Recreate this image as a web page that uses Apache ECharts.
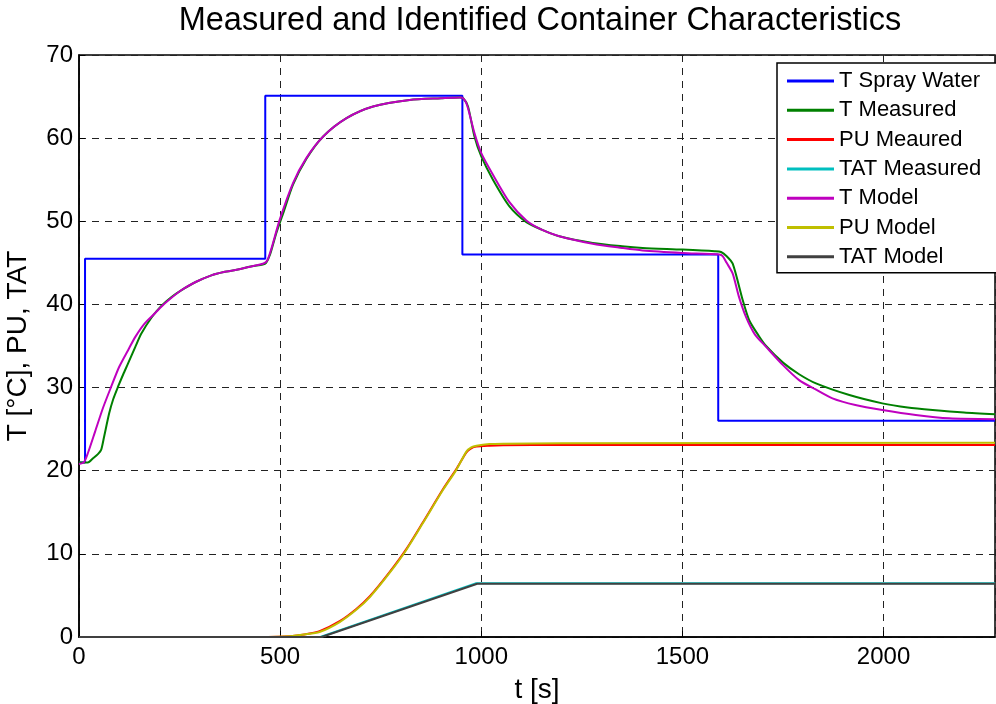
<!DOCTYPE html>
<html>
<head>
<meta charset="utf-8">
<script src="https://cdn.jsdelivr.net/npm/echarts@6/dist/echarts.min.js"></script>
<style>
html,body{margin:0;padding:0;background:#fff;}
#chart{width:996px;height:704px;}
</style>
</head>
<body>
<div id="chart"></div>
<script>
// ---- data ----
var seriesNames = ['T Spray Water','T Measured','PU Meaured','TAT Measured','T Model','PU Model','TAT Model'];
var xTicks = [0, 500, 1000, 1500, 2000];
var yTicks = [0, 10, 20, 30, 40, 50, 60, 70];

var sprayT = [0, 15, 15, 463, 463, 953, 953, 1589, 1589, 2277];
var sprayV = [21, 21, 45.5, 45.5, 65.1, 65.1, 46.0, 46.0, 26.0, 26.0];

var tMeasT = [0, 22, 35, 47, 55, 62, 75, 85, 97, 110, 122, 140, 155, 180, 204, 230, 254, 290, 329, 360, 395, 430, 457, 465, 475, 490, 510, 532, 565, 607, 665, 731, 822, 900, 946, 955, 967, 983, 1000, 1029, 1070, 1112, 1150, 1194, 1277, 1350, 1401, 1500, 1580, 1596, 1610, 1625, 1650, 1666, 1690, 1708, 1750, 1790, 1832, 1915, 1997, 2060, 2122, 2200, 2277];
var tMeasV = [21.0, 21.0, 21.5, 22.0, 22.5, 24.0, 26.9, 28.6, 30.1, 31.6, 32.9, 34.9, 36.5, 38.4, 39.8, 40.9, 41.7, 42.7, 43.5, 43.9, 44.2, 44.6, 44.8, 45.0, 46.0, 48.5, 51.3, 54.4, 57.5, 60.2, 62.4, 63.8, 64.6, 64.8, 64.9, 64.8, 63.8, 60.2, 57.8, 55.0, 51.8, 49.9, 49.0, 48.2, 47.4, 47.0, 46.8, 46.6, 46.4, 46.3, 45.8, 44.9, 40.5, 38.1, 36.2, 35.0, 33.0, 31.6, 30.5, 29.1, 28.1, 27.6, 27.3, 27.0, 26.8];

var tModT = [0, 12, 22, 40, 60, 80, 100, 122, 140, 163, 190, 213, 254, 290, 329, 360, 395, 430, 457, 465, 470, 480, 499, 532, 565, 607, 665, 731, 822, 900, 950, 960, 967, 983, 1000, 1029, 1070, 1112, 1150, 1194, 1277, 1350, 1401, 1500, 1592, 1600, 1610, 1625, 1640, 1658, 1680, 1708, 1750, 1790, 1830, 1873, 1930, 1997, 2080, 2163, 2277];
var tModV = [20.8, 21.0, 22.1, 24.7, 27.6, 30.1, 32.5, 34.5, 36.1, 37.7, 39.0, 40.1, 41.7, 42.7, 43.5, 43.9, 44.2, 44.6, 44.9, 45.1, 45.5, 47.0, 50.2, 54.6, 57.6, 60.2, 62.4, 63.8, 64.6, 64.8, 64.9, 64.5, 63.6, 60.6, 58.2, 55.6, 52.3, 50.1, 49.0, 48.2, 47.3, 46.8, 46.5, 46.2, 46.0, 45.8, 45.0, 43.7, 41.0, 38.5, 36.4, 34.9, 32.7, 30.9, 29.8, 28.7, 27.9, 27.3, 26.7, 26.3, 26.2];

var puMeasT = [0, 470, 524, 560, 598, 648, 690, 723, 772, 814, 855, 905, 938, 963, 975, 988, 1020, 1054, 1200, 2277];
var puMeasV = [0, 0, 0.1, 0.3, 0.7, 1.9, 3.4, 4.9, 7.8, 10.6, 13.8, 17.8, 20.2, 22.2, 22.7, 22.9, 23.0, 23.05, 23.1, 23.1];

var puModT = [0, 470, 524, 560, 598, 648, 690, 723, 772, 814, 855, 905, 938, 963, 975, 988, 1020, 1054, 1200, 2277];
var puModV = [0, 0, 0.1, 0.3, 0.6, 1.8, 3.3, 4.8, 7.7, 10.5, 13.7, 17.7, 20.1, 22.3, 22.8, 23.0, 23.2, 23.25, 23.3, 23.35];

var tatMeasT = [0, 600, 986, 2277];
var tatMeasV = [0, 0, 6.45, 6.45];

var tatModT = [0, 603, 990, 2277];
var tatModV = [0, 0, 6.4, 6.4];

var colors = ['#0000ff', '#008000', '#ff0000', '#00bfbf', '#bf00bf', '#bfbf00', '#404040'];
var smoothness = [0, 0.25, 0.25, 0, 0.25, 0.25, 0];

function pairs(t, v) { return t.map(function (x, i) { return [x, v[i]]; }); }

var allData = [
  pairs(sprayT, sprayV), pairs(tMeasT, tMeasV), pairs(puMeasT, puMeasV), pairs(tatMeasT, tatMeasV),
  pairs(tModT, tModV), pairs(puModT, puModV), pairs(tatModT, tatModV)
];

var FONT = '"Liberation Sans", Arial, sans-serif';
var chart = echarts.init(document.getElementById('chart'), null, {renderer: 'canvas'});

var option = {
  animation: false,
  backgroundColor: '#ffffff',
  graphic: [{
    type: 'text', x: 540, y: 21,
    style: { text: 'Measured and Identified Container Characteristics', font: '32.5px ' + FONT,
             fill: '#000', textAlign: 'center', textVerticalAlign: 'middle' }
  }],
  grid: { left: 79, right: 1, top: 55, bottom: 67, show: true, borderColor: '#000', borderWidth: 1.5,
          backgroundColor: 'transparent', containLabel: false, outerBoundsMode: 'none' },
  legend: {
    orient: 'vertical', left: 777, top: 63,
    data: seriesNames.map(function (n) { return { name: n, icon: 'rect' }; }),
    itemWidth: 47, itemHeight: 3, itemGap: 5.3,
    padding: [6, 30, 4, 10],
    backgroundColor: '#fff', borderColor: '#000', borderWidth: 1.5,
    textStyle: { fontFamily: FONT, fontSize: 22, color: '#000', lineHeight: 24 }
  },
  xAxis: {
    type: 'value', min: xTicks[0], max: 2277, interval: 500,
    name: 't [s]', nameLocation: 'middle', nameGap: 39,
    nameTextStyle: { fontFamily: FONT, fontSize: 28, color: '#000' },
    axisLine: { show: true, lineStyle: { color: '#000', width: 1.5 } },
    axisTick: { show: true, inside: true, length: 6, lineStyle: { color: '#000' } },
    axisLabel: { fontFamily: FONT, fontSize: 24, color: '#000', margin: 8, showMaxLabel: false,
                 formatter: function (v) { return String(v); } },
    splitLine: { show: true, lineStyle: { color: '#222', type: [7, 6], width: 1 } }
  },
  yAxis: {
    type: 'value', min: yTicks[0], max: 70, interval: 10,
    name: 'T [°C], PU, TAT', nameLocation: 'middle', nameGap: 47,
    nameTextStyle: { fontFamily: FONT, fontSize: 28, color: '#000' },
    axisLine: { show: true, lineStyle: { color: '#000', width: 1.5 } },
    axisTick: { show: true, inside: true, length: 6, lineStyle: { color: '#000' } },
    axisLabel: { fontFamily: FONT, fontSize: 24, color: '#000', margin: 6,
                 formatter: function (v) { return String(v); } },
    splitLine: { show: true, lineStyle: { color: '#222', type: [7, 6], width: 1 } }
  },
  series: seriesNames.map(function (n, i) {
    return {
      name: n, type: 'line', data: allData[i], symbol: 'none', showSymbol: false,
      smooth: smoothness[i],
      color: colors[i], lineStyle: { color: colors[i], width: 2 }, itemStyle: { color: colors[i] },
      clip: true, z: 2 + i
    };
  })
};
chart.setOption(option);
</script>
</body>
</html>
